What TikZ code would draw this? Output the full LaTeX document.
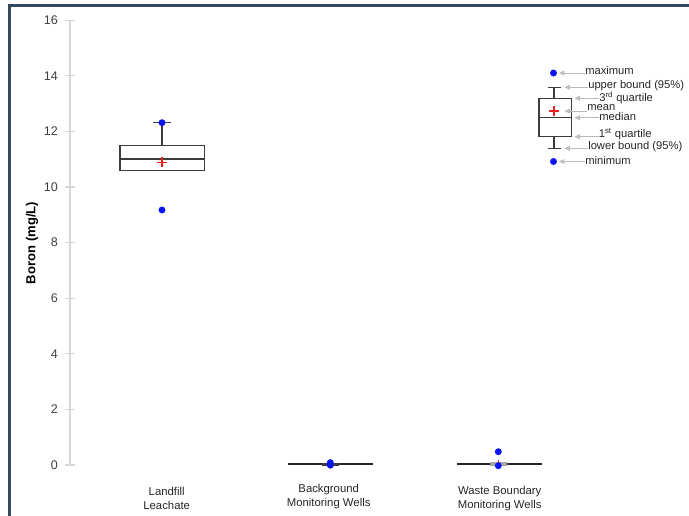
\documentclass[tikz,border=0pt]{standalone}
\usepackage{fontspec}
\setmainfont{Liberation Sans}
\usetikzlibrary{arrows.meta,positioning}

\definecolor{framecol}{HTML}{34495E}
\definecolor{dotblue}{HTML}{0A14F0}
\definecolor{axisgray}{HTML}{D6D6D6}
\definecolor{ticktext}{HTML}{404040}
\definecolor{boxline}{HTML}{3C3C3C}
\definecolor{meanred}{HTML}{F01E1E}

\begin{document}
\begin{tikzpicture}[x=0.75pt,y=-0.75pt,
  dot/.style={circle,fill=dotblue,inner sep=0pt,minimum size=5.2pt},
  boxstyle/.style={draw=boxline,line width=0.95pt},
  ticklbl/.style={anchor=east,inner sep=0pt,text=ticktext,font=\fontsize{9.4}{11}\selectfont},
  catlbl/.style={align=center,inner sep=0pt,text=black!85,font=\fontsize{8.5}{10.2}\selectfont},
  leglbl/.style={anchor=west,inner sep=0pt,text=black!85,font=\fontsize{8.4}{10}\selectfont},
  legarrow/.style={draw=gray!55,line width=0.6pt,-{Triangle[length=4pt,width=3.6pt,fill=gray!45]}},
  meanmark/.style={draw=meanred,line width=1pt}]
\useasboundingbox (0,0) rectangle (689,516);

% Frame
\draw[framecol,line width=1.6pt] (9.5,516) -- (9.5,5.5) -- (689,5.5);

% Axis and ticks
\draw[axisgray,line width=0.8pt] (70,20.2) -- (70,465);
\foreach \v in {0,2,...,16} {
  \node[ticklbl] (t\v) at (58,{465-27.8*\v}) {\v};
  \draw[axisgray,line width=0.8pt] (65,{465-27.8*\v}) -- (75,{465-27.8*\v});
}
\node[rotate=90,inner sep=0pt,font=\bfseries\fontsize{9.8}{12}\selectfont] (ylbl) at (32,243) {Boron (mg/L)};

% Landfill Leachate
\draw[boxstyle] (162,145.3) -- (162,122.7);
\draw[boxstyle] (153.3,122.7) -- (170.7,122.7);
\draw[boxstyle,fill=white] (120,145.3) rectangle (204.3,170.3);
\draw[boxstyle] (120,159) -- (204.3,159);
\draw[meanmark] (157,162.3) -- (167,162.3) (162,157.3) -- (162,167.3);
\node[dot] (max1) at (162,122.7) {};
\node[dot] (min1) at (162,210) {};

% Background Monitoring Wells
\draw[black!85,line width=1.5pt] (288.3,464.3) -- (372.7,464.3);
\fill[boxline] (321.7,462.6) rectangle (339.3,466);
\node[dot] (max2) at (330.3,462.6) {};
\node[dot] (min2) at (330.3,465.2) {};

% Waste Boundary Monitoring Wells
\draw[black!85,line width=1.5pt] (456.7,464.3) -- (541.7,464.3);
\fill[gray!70] (490,462.4) rectangle (506.7,466.2);
\draw[meanred,line width=0.8pt] (498.3,460) -- (498.3,466);
\node[dot] (max3) at (498.3,451.7) {};
\node[dot] (min3) at (498.3,465.7) {};

% Category labels
\node[catlbl] (cat1) at (166.7,498.3) {Landfill\\Leachate};
\node[catlbl] (cat2) at (328.7,496.3) {Background\\Monitoring Wells};
\node[catlbl] (cat3) at (499.7,498.3) {Waste Boundary\\Monitoring Wells};

% Legend box
\draw[boxstyle] (554,87.3) -- (554,98.3) (554,136.7) -- (554,148.3);
\draw[boxstyle] (547.5,87.3) -- (561,87.3) (547.5,148.3) -- (561,148.3);
\draw[boxstyle] (539,98.3) rectangle (571.7,136.7);
\draw[boxstyle] (539,117.7) -- (571.7,117.7);
\draw[meanmark] (549,111) -- (559,111) (554,106) -- (554,116);
\node[dot] (lmaxdot) at (553.5,73) {};
\node[dot] (lmindot) at (553.5,161.5) {};

% Legend targets
\coordinate (pmax) at (559,73);
\coordinate (pub) at (564.5,87.3);
\coordinate (pq3) at (574.5,98.3);
\coordinate (pmean) at (564.5,111);
\coordinate (pmed) at (574.5,117.7);
\coordinate (pq1) at (574.5,136.7);
\coordinate (plb) at (564.5,148.3);
\coordinate (pmin) at (559,161.5);

% Legend labels
\node[leglbl] (lmax) at (585,70.7) {maximum};
\node[leglbl] (lub) at (588,85.7) {upper bound (95\%)};
\node[leglbl] (lq3) at (599,97.5) {3\textsuperscript{rd} quartile};
\node[leglbl] (lmean) at (587,107.7) {mean};
\node[leglbl] (lmed) at (599,116.7) {median};
\node[leglbl] (lq1) at (598.5,134) {1\textsuperscript{st} quartile};
\node[leglbl] (llb) at (588,146.9) {lower bound (95\%)};
\node[leglbl] (lmin) at (585,160.3) {minimum};

% Edges
\draw[legarrow] (pmax -| lmax.west) -- (pmax);
\draw[legarrow] (pub -| lub.west) -- (pub);
\draw[legarrow] (pq3 -| lq3.west) -- (pq3);
\draw[legarrow] (pmean -| lmean.west) -- (pmean);
\draw[legarrow] (pmed -| lmed.west) -- (pmed);
\draw[legarrow] (pq1 -| lq1.west) -- (pq1);
\draw[legarrow] (plb -| llb.west) -- (plb);
\draw[legarrow] (pmin -| lmin.west) -- (pmin);
\end{tikzpicture}
\end{document}
